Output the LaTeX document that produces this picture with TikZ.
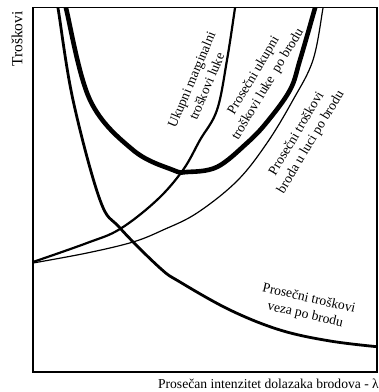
\documentclass[tikz,border=0pt]{standalone}
\usepackage{fontspec}
\setmainfont{Liberation Serif}
\begin{document}
\begin{tikzpicture}[x=1pt,y=-1pt,
  lbl/.style={font=\fontsize{13.6}{16.5}\selectfont, align=center, inner sep=0pt},
  crvA/.style={line width=2.8pt},
  crvB/.style={line width=4.6pt},
  crvC/.style={line width=2.2pt},
  crvD/.style={line width=1.2pt}]
\useasboundingbox (0,0) rectangle (379,392);
\begin{scope}
\clip (33,7.5) rectangle (377,372);
% A: veza
\draw[crvA] plot[smooth, tension=0.6] coordinates {(56,0) (58,8) (73,100) (100,200) (120,228) (160,268) (180,282) (230,310) (280,330) (330,341) (380,347)};
% B: U curve
\draw[crvB] plot[smooth, tension=0.6] coordinates {(65,0) (66,8) (90,100) (133,150) (173,170) (187,172) (217,167) (247,143) (267,122) (290,90) (300,60) (315,8) (317,0)};
% C: marginal
\draw[crvC] plot[smooth, tension=0.6] coordinates {(33,262) (87,243) (120,229) (157,200) (183,170) (200,140) (217,110) (227,60) (235,8) (236,0)};
% D: thin
\draw[crvD] plot[smooth, tension=0.6] coordinates {(33,263) (87,253) (133,242) (163,230) (197,213) (237,181) (267,143) (293,100) (313,60) (323,8) (324,0)};
\end{scope}
\draw[line width=1.6pt] (33,7.5) rectangle (377,372);
\node[lbl, rotate=67] (l1) at (199,83) {Ukupni marginalni\\troškovi luke};
\node[lbl, rotate=59] (l2) at (261,80) {Prosečni ukupni\\troškovi luke\ \ po brodu};
\node[lbl, rotate=59] (l3) at (304,138) {Prosečni troškovi\\broda u luci po brodu};
\node[lbl, rotate=-13] (l4) at (307,307) {Prosečni troškovi\\veza po brodu};
\node[lbl, font=\fontsize{13.6}{15}\selectfont, anchor=base east] (xl) at (379,388) {Prosečan intenzitet dolazaka brodova - λ};
\node[lbl, font=\fontsize{15.5}{17}\selectfont, rotate=90] (yl) at (17,39) {Troškovi};
\end{tikzpicture}
\end{document}
